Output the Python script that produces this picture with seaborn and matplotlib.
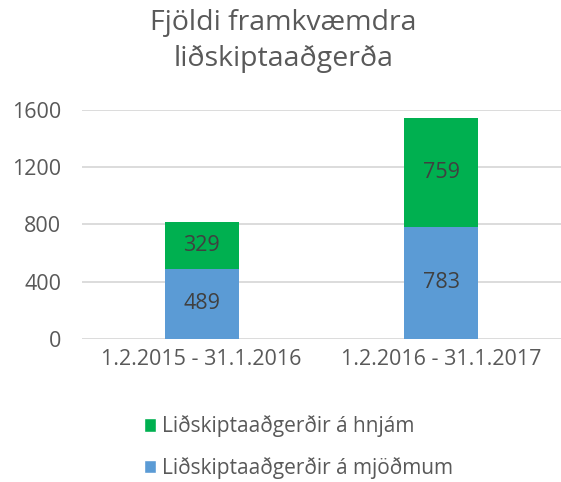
import matplotlib
matplotlib.use("Agg")
import matplotlib.pyplot as plt
import seaborn as sns
import pandas as pd
import numpy as np
from matplotlib.patches import Patch

periods = ["1.2.2015 - 31.1.2016", "1.2.2016 - 31.1.2017"]
hips = [489, 783]     # Liðskiptaaðgerðir á mjöðmum
knees = [329, 759]    # Liðskiptaaðgerðir á hnjám
yticks = [0, 400, 800, 1200, 1600]
title = "Fjöldi framkvæmdra\nliðskiptaaðgerða"
label_knees = "Liðskiptaaðgerðir á hnjám"
label_hips = "Liðskiptaaðgerðir á mjöðmum"

GREEN = "#00B050"
BLUE = "#5B9BD5"
TXT = "#595959"

sns.set_theme(style="white")
plt.rcParams["font.family"] = ["Open Sans", "DejaVu Sans"]

df = pd.DataFrame({"period": periods, "hips": hips, "knees": knees})
df["total"] = df["hips"] + df["knees"]

fig = plt.figure(figsize=(5.61, 4.82), dpi=100)
ax = fig.add_axes([0.146, 0.297, 0.854, 0.475])

sns.barplot(data=df, x="period", y="total", color=GREEN, width=0.31,
            saturation=1, ax=ax, edgecolor="none", zorder=3)
sns.barplot(data=df, x="period", y="hips", color=BLUE, width=0.31,
            saturation=1, ax=ax, edgecolor="none", zorder=3)

for i, (h, k) in enumerate(zip(hips, knees)):
    ax.text(i, h / 2, str(h), ha="center", va="center", fontsize=15.5, color="#404040", zorder=4)
    ax.text(i, h + k / 2, str(k), ha="center", va="center", fontsize=15.5, color="#404040", zorder=4)

ax.set_ylim(0, 1600)
ax.set_xlim(-0.5, 1.5)
ax.set_yticks(yticks)
ax.set_yticklabels([str(t) for t in yticks])
ax.yaxis.grid(True, color="#D9D9D9", linewidth=1.3, zorder=0)
ax.set_axisbelow(True)
for s in ax.spines.values():
    s.set_visible(False)
ax.tick_params(axis="both", length=0, labelsize=15.5, colors=TXT)
ax.tick_params(axis="y", pad=15)
ax.tick_params(axis="x", pad=7)
ax.set_xlabel("")
ax.set_ylabel("")

fig.text(0.505, 0.914, title, ha="center", va="center", fontsize=20.5, color=TXT, linespacing=1.38)

handles = [Patch(facecolor=GREEN, label=label_knees), Patch(facecolor=BLUE, label=label_hips)]
fig.legend(handles=handles, loc="center", bbox_to_anchor=(0.532, 0.072), frameon=False,
           ncol=1, fontsize=15, labelcolor=TXT, handlelength=0.6, handleheight=0.6,
           handletextpad=0.3, labelspacing=0.95)

fig.savefig("out.png", dpi=100)
